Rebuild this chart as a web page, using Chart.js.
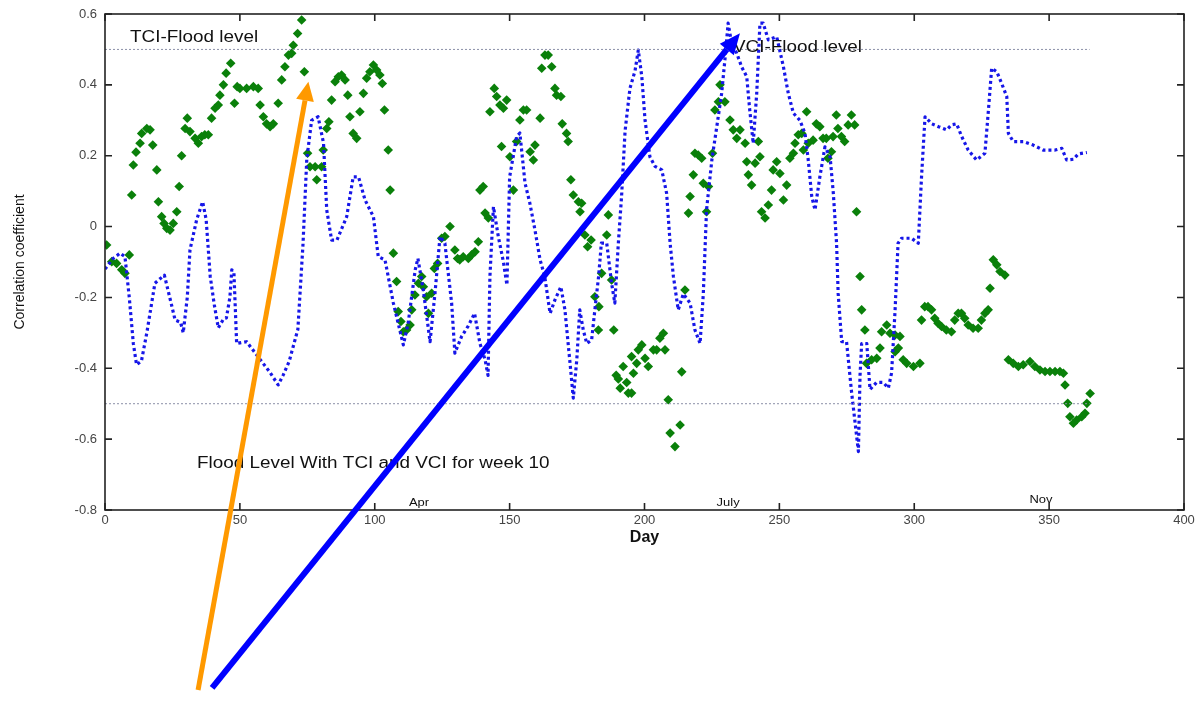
<!DOCTYPE html>
<html>
<head>
<meta charset="utf-8">
<script src="https://cdn.jsdelivr.net/npm/chart.js@4.4.1/dist/chart.umd.min.js"></script>
<style>
  html, body { margin: 0; padding: 0; background: #fff; }
  #wrap { width: 1196px; height: 705px; }
</style>
</head>
<body>
<div id="wrap"><canvas id="chart" width="1196" height="705"></canvas></div>
<script>
// VCI correlation (blue dotted line)
const vciDays = [0, 3, 5.6, 7.4, 9, 10.5, 11.7, 13.5, 15.5, 18.5, 22, 24, 26, 28, 29, 30.5, 31.5, 34, 36.2, 37.5,
  39, 40.5, 42, 44, 45, 46.3, 47, 47.8, 48.8, 52.5, 55, 58.6, 61, 64.2, 66, 68.3, 71.5, 73.4, 74.8, 76.6,
  79, 81, 82.2, 84, 86, 89.6, 92, 94, 96.4, 99.5, 101.3, 103.8, 106.9, 110.6, 112.4, 115, 116, 118, 120.5, 122.3,
  124.2, 126, 128.5, 129.7, 132.2, 134.7, 137, 139, 140.9, 142, 142.7, 144, 145.8, 147.7, 149, 150, 152.6, 153.8, 155.7, 157.5,
  159.4, 161.3, 163, 165, 166.8, 169, 170.5, 172.4, 173.6, 174.9, 176, 177.3, 178.6, 180.4, 181.6, 183, 184, 186, 187.8, 189,
  190.3, 191.5, 192.8, 194.6, 196.5, 197.7, 199, 200.2, 202, 203.9, 206.4, 208.2, 209.5, 210.7, 212.5, 214.4, 216.9, 218.7, 220.6, 221.8,
  223, 225, 226.8, 228.6, 229.8, 231, 232.3, 234.2, 236, 237.9, 239, 240.3, 241.6, 242.8, 244, 245.9, 249, 251.5, 253.3, 255.2,
  257.6, 259.5, 260.7, 262, 263.2, 265, 266.9, 268.8, 270, 271.2, 271.8, 273.1, 274.9, 276.8, 279.3, 279.9, 280.5, 282.4, 283.6, 286,
  288.5, 290.4, 291.6, 292.9, 294, 295.3, 299, 301.5, 302.7, 304, 306.5, 309, 312, 313.8, 315.7, 317.6, 320, 323.1, 326.2, 327.5,
  328.7, 330.6, 332.4, 334.3, 334.9, 336.7, 340.4, 344.1, 347.8, 352.2, 354.7, 356.5, 359, 360.8, 364];
const vciValues = [-0.12, -0.09, -0.075, -0.085, -0.2, -0.33, -0.39, -0.38, -0.3, -0.16, -0.137, -0.2, -0.264, -0.27, -0.3, -0.2, -0.066, 0.02, 0.07, 0.02,
  -0.14, -0.22, -0.286, -0.26, -0.258, -0.2, -0.122, -0.13, -0.33, -0.325, -0.35, -0.386, -0.41, -0.447, -0.42, -0.38, -0.29, -0.05, 0.19, 0.3,
  0.31, 0.236, 0.047, -0.038, -0.038, 0.028, 0.14, 0.14, 0.075, 0.028, -0.085, -0.094, -0.216, -0.334, -0.272, -0.122, -0.09, -0.18, -0.325, -0.19,
  -0.028, -0.047, -0.216, -0.357, -0.31, -0.28, -0.245, -0.33, -0.376, -0.42, -0.14, 0.056, -0.028, -0.1, -0.165, 0.14, 0.254, 0.264, 0.123, 0.066,
  -0.01, -0.094, -0.14, -0.245, -0.207, -0.17, -0.235, -0.386, -0.484, -0.376, -0.235, -0.292, -0.33, -0.32, -0.235, -0.14, -0.047, -0.047, -0.16, -0.216,
  -0.047, 0.085, 0.27, 0.39, 0.44, 0.498, 0.423, 0.3, 0.197, 0.17, 0.16, 0.094, -0.047, -0.14, -0.235, -0.19, -0.216, -0.292, -0.33, -0.19,
  0.047, 0.19, 0.282, 0.376, 0.47, 0.574, 0.517, 0.489, 0.451, 0.423, 0.33, 0.235, 0.376, 0.574, 0.574, 0.527, 0.536, 0.451, 0.376, 0.32,
  0.3, 0.263, 0.188, 0.085, 0.047, 0.14, 0.225, 0.197, 0.094, -0.047, -0.19, -0.325, -0.325, -0.47, -0.635, -0.42, -0.33, -0.33, -0.46, -0.44,
  -0.44, -0.456, -0.413, -0.235, -0.047, -0.033, -0.033, -0.047, 0.14, 0.31, 0.29, 0.282, 0.273, 0.287, 0.29, 0.254, 0.216, 0.188, 0.207, 0.329,
  0.447, 0.437, 0.404, 0.367, 0.263, 0.24, 0.24, 0.23, 0.216, 0.216, 0.221, 0.188, 0.19, 0.205, 0.209];

// TCI correlation (green diamonds)
const tciDays = [0.6, 2.5, 4.3, 6.2, 7.4, 9, 9.9, 10.5, 11.5, 13, 13.6, 15.5, 16.7, 17.7, 19.2, 19.8, 21, 21.9, 22.9, 24.1,
  25.3, 26.6, 27.5, 28.4, 29.7, 30.5, 31.5, 33.4, 34.6, 35.8, 37, 38.3, 39.5, 40.8, 42, 42.6, 43.9, 44.9, 46.6, 48,
  49, 50, 52.5, 55, 56.8, 57.5, 58.7, 59.9, 61.2, 62.4, 64.2, 65.5, 66.7, 68, 69.2, 69.8, 71.4, 72.9, 73.9, 75.1,
  76, 77.9, 78.5, 80.3, 80.9, 82.2, 83, 84, 85.3, 86.5, 87.7, 89, 90, 90.8, 92, 93.3, 94.5, 95.8, 97, 98.2,
  99.5, 100.7, 101.9, 102.8, 103.6, 105, 105.7, 106.9, 108.1, 108.7, 109.7, 110.6, 111.8, 113.1, 113.7, 114.9, 116.2, 117.4, 118, 119.2,
  119.9, 121.1, 122.1, 123.3, 124.8, 126, 127.9, 129.7, 130.7, 131.5, 132.8, 134.7, 135.9, 137.2, 138.4, 139, 140.2, 140.9, 142.1, 142.7,
  144.3, 145.2, 146.4, 147, 147.7, 148.9, 150.1, 151.4, 152.6, 153.8, 155.1, 156.3, 157.6, 158.8, 159.4, 161.3, 161.9, 163.1, 164.3, 165.6,
  166.8, 167.4, 169, 169.5, 171.1, 171.7, 172.7, 173.6, 175.5, 176.1, 176.7, 177.9, 178.9, 180.2, 181.6, 182.9, 183.1, 184.1, 186, 186.6,
  187.8, 188.6, 189.5, 190.3, 191, 192.1, 193.4, 194, 195.2, 195.2, 195.9, 197.1, 197.7, 199, 200.2, 201.4, 203.3, 204.5, 205.7, 207,
  207.6, 208.8, 209.5, 211.3, 213.2, 213.8, 215, 216.3, 216.9, 218.1, 218.7, 219.9, 221.2, 221.8, 223, 223.7, 225.2, 226.1, 227.4, 228,
  229.8, 231.7, 232.9, 234.2, 235.4, 237.3, 237.9, 238.5, 239.7, 241, 242.2, 242.8, 243.4, 244.7, 245.9, 247.1, 247.7, 249, 250.2, 251.5,
  252.7, 253.9, 255.2, 255.8, 257, 258.3, 258.9, 260.1, 260.7, 262.5, 263.7, 265, 266.2, 267.4, 268, 269.3, 269.9, 271.1, 271.7, 273,
  274.2, 275.5, 276.7, 277.9, 278.6, 279.9, 280.5, 281.7, 282.3, 284.2, 286.1, 287.3, 287.9, 289.8, 291, 292.9, 292.9, 294.1, 294.7, 295.9,
  297.2, 299.7, 302.1, 302.7, 303.9, 305.1, 306.4, 307.6, 308.8, 310.1, 311.9, 313.8, 315, 316.3, 317.5, 318.7, 320, 321.8, 323.7, 324.9,
  326.2, 327.4, 328.1, 329.3, 330.6, 331.8, 333.6, 334.9, 336.7, 338.6, 340.4, 342.9, 344.7, 346.6, 348.5, 350.3, 352.2, 354, 355.3, 355.9,
  356.9, 357.7, 359, 360.2, 362.1, 363.3, 364, 365.2];
const tciValues = [-0.052, -0.099, -0.104, -0.122, -0.132, -0.08, 0.089, 0.174, 0.21, 0.235, 0.263, 0.277, 0.273, 0.23, 0.16, 0.07, 0.028, 0.009, -0.005, -0.01,
  0.009, 0.042, 0.113, 0.2, 0.277, 0.306, 0.268, 0.249, 0.235, 0.254, 0.259, 0.259, 0.306, 0.334, 0.343, 0.371, 0.4, 0.433, 0.461, 0.348,
  0.395, 0.39, 0.39, 0.395, 0.39, 0.343, 0.31, 0.29, 0.282, 0.29, 0.348, 0.414, 0.451, 0.484, 0.489, 0.512, 0.545, 0.583, 0.437, 0.207,
  0.169, 0.169, 0.132, 0.169, 0.216, 0.277, 0.296, 0.357, 0.409, 0.423, 0.428, 0.414, 0.371, 0.31, 0.263, 0.249, 0.324, 0.376, 0.419, 0.437,
  0.456, 0.442, 0.428, 0.404, 0.329, 0.216, 0.103, -0.075, -0.155, -0.24, -0.268, -0.297, -0.292, -0.278, -0.235, -0.193, -0.16, -0.141, -0.17, -0.198,
  -0.245, -0.188, -0.118, -0.104, -0.033, -0.028, 0.0, -0.066, -0.09, -0.094, -0.085, -0.09, -0.08, -0.071, -0.043, 0.103, 0.113, 0.038, 0.024, 0.324,
  0.39, 0.367, 0.343, 0.226, 0.334, 0.357, 0.197, 0.103, 0.24, 0.301, 0.329, 0.329, 0.211, 0.188, 0.23, 0.306, 0.447, 0.484, 0.484, 0.451,
  0.39, 0.371, 0.367, 0.29, 0.263, 0.24, 0.132, 0.089, 0.07, 0.042, 0.066, -0.024, -0.057, -0.038, -0.198, -0.292, -0.226, -0.132, -0.024, 0.033,
  -0.151, -0.292, -0.42, -0.43, -0.456, -0.395, -0.44, -0.47, -0.367, -0.47, -0.414, -0.386, -0.348, -0.334, -0.372, -0.395, -0.348, -0.348, -0.315, -0.301,
  -0.348, -0.489, -0.583, -0.621, -0.56, -0.41, -0.179, 0.038, 0.085, 0.146, 0.207, 0.202, 0.193, 0.122, 0.042, 0.113, 0.207, 0.329, 0.352, 0.4,
  0.352, 0.301, 0.273, 0.249, 0.273, 0.235, 0.183, 0.146, 0.117, 0.179, 0.24, 0.197, 0.042, 0.024, 0.061, 0.103, 0.16, 0.183, 0.15, 0.075,
  0.117, 0.193, 0.207, 0.235, 0.259, 0.263, 0.216, 0.324, 0.235, 0.244, 0.29, 0.282, 0.249, 0.249, 0.193, 0.211, 0.254, 0.315, 0.277, 0.254,
  0.24, 0.287, 0.315, 0.287, 0.042, -0.141, -0.235, -0.292, -0.386, -0.376, -0.372, -0.343, -0.297, -0.278, -0.301, -0.306, -0.353, -0.343, -0.31, -0.376,
  -0.386, -0.395, -0.386, -0.264, -0.226, -0.226, -0.235, -0.259, -0.273, -0.282, -0.292, -0.297, -0.264, -0.245, -0.245, -0.259, -0.278, -0.287, -0.287, -0.264,
  -0.245, -0.235, -0.174, -0.094, -0.108, -0.127, -0.137, -0.376, -0.386, -0.395, -0.39, -0.381, -0.395, -0.405, -0.409, -0.409, -0.409, -0.409, -0.414, -0.447,
  -0.499, -0.537, -0.555, -0.546, -0.537, -0.527, -0.499, -0.471];

// flood level reference lines
const floodDays = [0, 365];
const tciFlood = [0.5, 0.5];
const vciFlood = [-0.5, -0.5];

// axis ranges / ticks
const xTicks = [0, 50, 100, 150, 200, 250, 300, 350, 400];
const yTicks = [-0.8, -0.6, -0.4, -0.2, 0, 0.2, 0.4, 0.6];

// text notes (in data units) and month markers
const notes = [
  { text: 'TCI-Flood level', day: 9.3, value: 0.532, size: 16, align: 'left' },
  { text: 'VCI-Flood level', day: 232.8, value: 0.505, size: 16, align: 'left' },
  { text: 'Flood Level With TCI and VCI for week 10', day: 34.1, value: -0.67, size: 16, align: 'left' },
  { text: 'Apr', day: 116.4, value: -0.78, size: 11, align: 'center' },
  { text: 'July', day: 231, value: -0.78, size: 11, align: 'center' },
  { text: 'Nov', day: 347, value: -0.772, size: 11, align: 'center' }
];

// pointer arrows: [tail, tip] in data units
const arrows = [
  { from: [34.5, -1.308], to: [75.4, 0.409], color: '#ff9900', width: 5, head: 19, half: 9 },
  { from: [39.7, -1.302], to: [235.4, 0.546], color: '#0000ff', width: 6, head: 21, half: 9 }
];

const pts = (xs, ys) => xs.map((d, i) => ({ x: d, y: ys[i] }));

const decor = {
  id: 'decor',
  afterDatasetsDraw(chart) {
    const { ctx, chartArea: a, scales: { x, y } } = chart;
    ctx.save();
    // frame
    ctx.strokeStyle = '#222';
    ctx.lineWidth = 1.6;
    ctx.strokeRect(a.left, a.top, a.right - a.left, a.bottom - a.top);
    // inward ticks on all sides
    ctx.beginPath();
    xTicks.forEach(t => {
      const px = x.getPixelForValue(t);
      ctx.moveTo(px, a.bottom); ctx.lineTo(px, a.bottom - 7);
      ctx.moveTo(px, a.top); ctx.lineTo(px, a.top + 7);
    });
    yTicks.forEach(t => {
      const py = y.getPixelForValue(t);
      ctx.moveTo(a.left, py); ctx.lineTo(a.left + 7, py);
      ctx.moveTo(a.right, py); ctx.lineTo(a.right - 7, py);
    });
    ctx.stroke();
    // notes (slightly stretched like the source figure)
    ctx.fillStyle = '#111';
    ctx.textBaseline = 'middle';
    notes.forEach(n => {
      const px = x.getPixelForValue(n.day);
      const py = y.getPixelForValue(n.value);
      ctx.save();
      ctx.translate(px, py);
      ctx.scale(1.18, 1);
      ctx.font = n.size + 'px "Liberation Sans", Arial, sans-serif';
      ctx.textAlign = n.align;
      ctx.fillText(n.text, 0, 0);
      ctx.restore();
    });
    ctx.restore();
  },
  afterDraw(chart) {
    const { ctx, scales: { x, y } } = chart;
    ctx.save();
    arrows.forEach(ar => {
      const x0 = x.getPixelForValue(ar.from[0]), y0 = y.getPixelForValue(ar.from[1]);
      const x1 = x.getPixelForValue(ar.to[0]), y1 = y.getPixelForValue(ar.to[1]);
      const ang = Math.atan2(y1 - y0, x1 - x0);
      const bx = x1 - ar.head * Math.cos(ang), by = y1 - ar.head * Math.sin(ang);
      ctx.strokeStyle = ar.color;
      ctx.lineWidth = ar.width;
      ctx.beginPath();
      ctx.moveTo(x0, y0);
      ctx.lineTo(bx, by);
      ctx.stroke();
      ctx.fillStyle = ar.color;
      ctx.beginPath();
      ctx.moveTo(x1, y1);
      ctx.lineTo(bx + ar.half * Math.sin(ang), by - ar.half * Math.cos(ang));
      ctx.lineTo(bx - ar.half * Math.sin(ang), by + ar.half * Math.cos(ang));
      ctx.closePath();
      ctx.fill();
    });
    ctx.restore();
  }
};

const tickFont = { family: '"Liberation Sans", Arial, sans-serif', size: 13 };

new Chart(document.getElementById('chart'), {
  type: 'scatter',
  data: {
    datasets: [
      {
        label: 'TCI flood level',
        data: pts(floodDays, tciFlood),
        showLine: true,
        borderColor: '#8c90a8',
        borderWidth: 1,
        borderDash: [2, 2],
        pointRadius: 0
      },
      {
        label: 'VCI flood level',
        data: pts(floodDays, vciFlood),
        showLine: true,
        borderColor: '#8c90a8',
        borderWidth: 1,
        borderDash: [2, 2],
        pointRadius: 0
      },
      {
        label: 'VCI',
        data: pts(vciDays, vciValues),
        showLine: true,
        borderColor: '#1616e8',
        borderWidth: 3.2,
        borderDash: [3, 3],
        borderJoinStyle: 'round',
        pointRadius: 0,
        tension: 0
      },
      {
        label: 'TCI',
        data: pts(tciDays, tciValues),
        showLine: false,
        pointStyle: 'rectRot',
        pointRadius: 4.8,
        backgroundColor: '#0a800a',
        borderColor: '#0a800a',
        borderWidth: 0
      }
    ]
  },
  options: {
    responsive: false,
    animation: false,
    events: [],
    layout: { padding: { left: 0, top: 14, right: 12, bottom: 155 } },
    plugins: { legend: { display: false }, tooltip: { enabled: false } },
    scales: {
      x: {
        type: 'linear',
        min: 0, max: 400,
        afterBuildTicks: s => { s.ticks = xTicks.map(v => ({ value: v })); },
        afterFit: s => { s.height = 40; s.paddingLeft = 0; s.paddingRight = 0; },
        grid: { display: false, drawTicks: false },
        border: { display: false },
        ticks: { font: tickFont, color: '#444', padding: 3, maxRotation: 0 },
        title: {
          display: true, text: 'Day', color: '#111',
          font: { family: '"Liberation Sans", Arial, sans-serif', size: 16, weight: 'bold' },
          padding: { top: 0, bottom: 3 }
        }
      },
      y: {
        type: 'linear',
        min: -0.8, max: 0.6,
        afterBuildTicks: s => { s.ticks = yTicks.map(v => ({ value: v })); },
        afterFit: s => { s.width = 105; s.paddingTop = 0; s.paddingBottom = 0; },
        grid: { display: false, drawTicks: false },
        border: { display: false },
        ticks: {
          font: tickFont, color: '#444', padding: 8,
          callback: v => String(Math.round(v * 10) / 10)
        },
        title: {
          display: true, text: 'Correlation coefficient', color: '#111',
          font: { family: '"Liberation Sans", Arial, sans-serif', size: 14 },
          padding: { top: 12, bottom: 0 }
        }
      }
    }
  },
  plugins: [decor]
});
</script>
</body>
</html>
